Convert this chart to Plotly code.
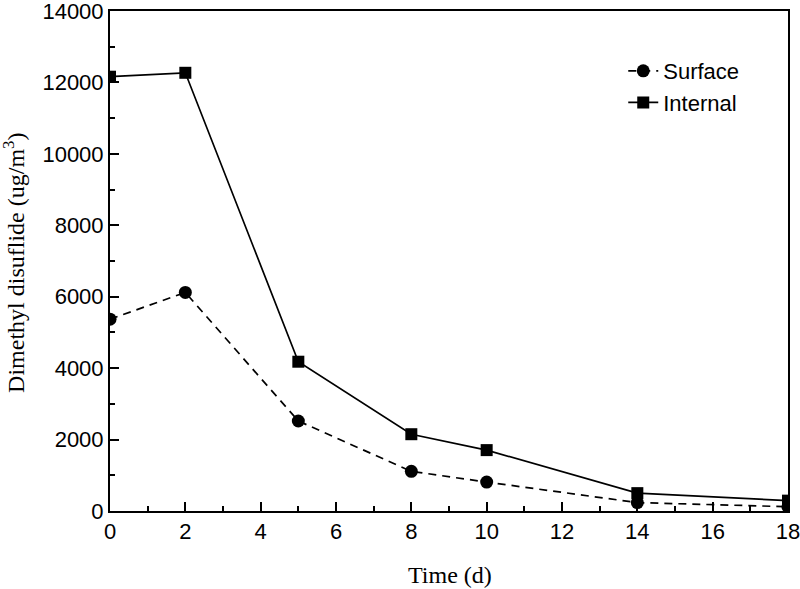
import plotly.graph_objects as go

time_days = [0, 2, 5, 8, 10, 14, 18]
surface = [5370, 6120, 2520, 1110, 810, 235, 120]
internal = [12160, 12270, 4180, 2150, 1705, 500, 290]

x_ticks = [0, 2, 4, 6, 8, 10, 12, 14, 16, 18]
y_ticks = [0, 2000, 4000, 6000, 8000, 10000, 12000, 14000]

x_title = "Time (d)"
y_title = "Dimethyl disuflide (ug/m<sup>3</sup>)"

fig = go.Figure()
fig.add_trace(go.Scatter(
    x=time_days, y=surface, name="Surface", mode="lines+markers",
    line=dict(color="black", width=1.7, dash="8px,6px"),
    marker=dict(symbol="circle", size=13, color="black"),
))
fig.add_trace(go.Scatter(
    x=time_days, y=internal, name="Internal", mode="lines+markers",
    line=dict(color="black", width=1.7),
    marker=dict(symbol="square", size=12, color="black"),
))

axis_common = dict(
    showline=True, linecolor="black", linewidth=2, mirror=True,
    ticks="inside", ticklen=9, tickwidth=1.5, tickcolor="black",
    showgrid=False, zeroline=False, automargin=False,
    ticklabeloverflow="allow",
    tickfont=dict(family="Liberation Sans, Arial", size=22, color="black"),
)

fig.update_xaxes(
    range=[0, 18], tickvals=x_ticks, ticktext=[str(v) for v in x_ticks],
    minor=dict(ticks="inside", ticklen=5, tickwidth=1.5, tickcolor="black", dtick=1),
    **axis_common,
)
fig.update_yaxes(
    range=[0, 14000], tickvals=y_ticks, ticktext=[str(v) for v in y_ticks],
    minor=dict(ticks="inside", ticklen=5, tickwidth=1.5, tickcolor="black", dtick=1000),
    **axis_common,
)

title_font = dict(family="Liberation Serif, Times New Roman", size=24, color="black")
fig.add_annotation(
    text=x_title, xref="paper", yref="paper", x=0.5015, y=-0.128,
    xanchor="center", yanchor="middle", showarrow=False, font=title_font,
)
fig.add_annotation(
    text=y_title, xref="paper", yref="paper", x=-0.1425, y=0.497,
    xanchor="center", yanchor="middle", textangle=-90, showarrow=False, font=title_font,
)

fig.update_layout(
    width=800, height=589,
    margin=dict(l=110, r=12, t=11, b=78),
    paper_bgcolor="white", plot_bgcolor="white",
    showlegend=True,
    legend=dict(
        x=0.757, y=0.922, xanchor="left", yanchor="top",
        bgcolor="rgba(0,0,0,0)", borderwidth=0,
        font=dict(family="Liberation Sans, Arial", size=22, color="black"),
        tracegroupgap=0,
    ),
)

fig.write_html(
    "out.html",
    config={"displayModeBar": False},
    post_script="document.body.style.margin='0';document.body.style.padding='0';",
)
